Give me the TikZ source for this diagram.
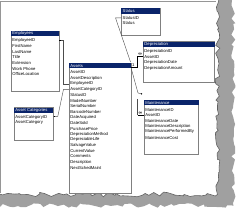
\documentclass[tikz,border=0pt]{standalone}
\usepackage{fontspec}
\setmainfont{Liberation Sans}
\usetikzlibrary{decorations.pathmorphing,calc}
\definecolor{hdrblue}{RGB}{10,36,106}
\definecolor{shadowgray}{RGB}{160,160,160}
\definecolor{edgegray}{RGB}{95,95,95}
\definecolor{boxgray}{RGB}{128,128,128}
\definecolor{framegray}{RGB}{150,150,150}
\tikzset{
  tbl/.style={draw=boxgray, line width=0.5pt, fill=white, inner sep=0pt, outer sep=0pt, anchor=north west},
  fld/.style={inner sep=0pt, anchor=west, font=\fontsize{4.2}{5}\selectfont},
  ttl/.style={fld, text=white},
  rel/.style={draw=black!70, line width=0.4pt},
  stubline/.style={draw=black, line width=1.1pt},
  endmark/.style={fill=black},
  card/.style={inner sep=0pt, font=\fontsize{4.2}{5}\selectfont},
}
\newcommand\dbtable[7]{%
  \node[tbl, minimum width=#4pt, minimum height=#5pt] (#1) at (#2,#3) {};
  \fill[hdrblue] (#1.north west) rectangle ++(#4,5.3);
  \node[ttl] (#1-t) at ($(#1.north west)+(1.2,2.75)$) {#6};
  \foreach \r [count=\i] in {#7} {
    \node[fld] (#1-\i) at ($(#1.north west)+(1.2,9.5+5.6*\i-5.6)$) {\r};
  }
}
\begin{document}
\begin{tikzpicture}[x=1pt,y=-1pt]
\useasboundingbox (0,0) rectangle (238,212);
\fill[white] (0,0) rectangle (238,212);
\pgfmathsetseed{11}
% torn-paper shadow
\path[fill=shadowgray, decorate, decoration={random steps, segment length=4.5pt, amplitude=2.2pt}]
  (-10,-10) -- (233.5,-10) -- (233.5,205.5) -- (-10,205.5) -- cycle;
% page
\path[fill=white, draw=edgegray, line width=0.6pt, decorate, decoration={random steps, segment length=4pt, amplitude=2.4pt}]
  (-10,-10) -- (217.5,-10) -- (217.5,194.5) -- (-10,194.5) -- cycle;
\draw[framegray, line width=0.6pt] (0.8,193) -- (0.8,0.8) -- (216,0.8);

% tables
\dbtable{emp}{11}{31}{48.3}{60}{Employees}{EmployeeID,FirstName,LastName,Title,Extension,Work Phone,OfficeLocation}
\dbtable{cat}{14}{107.7}{39.3}{32.3}{Asset Categories}{AssetCategoryID,AssetCategory}
\dbtable{ast}{69}{63}{62}{130}{Assets}{AssetID,AssetDescription,EmployeeID,AssetCategoryID,StatusID,ModelNumber,SerialNumber,BarcodeNumber,DateAcquired,DateSold,PurchasePrice,DepreciationMethod,DepreciableLife,SalvageValue,CurrentValue,Comments,Description,NextSchedMaint}
\dbtable{sta}{121.3}{8.3}{39}{26.7}{Status}{StatusID,Status}
\dbtable{dep}{143}{41.7}{71.5}{41}{Depreciation}{DepreciationID,AssetID,DepreciationDate,DepreciationAmount}
\dbtable{mnt}{144}{100}{54.7}{54}{Maintenance}{MaintenanceID,AssetID,MaintenanceDate,MaintenanceDescription,MaintenancePerformedBy,MaintenanceCost}

% Employees - Assets
\coordinate (e1) at (emp.east |- emp-1);
\draw[rel] (e1) -- ++(3.7,0) |- (ast.west |- ast-3);
\fill[endmark] ($(e1)+(0,-0.6)$) rectangle ++(1.2,1.2);

% Asset Categories - Assets
\coordinate (c1) at ($(cat.east |- cat-1)+(0,-0.8)$);
\coordinate (c2) at ($(c1)+(4.5,0)$);
\coordinate (c3) at ($(ast.west |- ast-4)+(-5.5,0)$);
\draw[rel] (c1) -- (c2) -- (c3) -- (ast.west |- ast-4);
\fill[endmark] ($(c1)+(0.4,-0.6)$) rectangle ++(1.2,1.2);

% Status - Assets
\coordinate (s1) at ($(sta.west |- sta-1)+(-5.8,0)$);
\coordinate (s2) at ($(ast.north east)+(-0.5,-1)$);
\draw[rel] (sta.west |- sta-1) -- (s1) -- (s2);

% Assets - Depreciation
\coordinate (a1) at ($(ast.north east)+(0,4.2)$);
\coordinate (d1) at ($(a1)+(6.5,0)$);
\draw[stubline] (a1) -- (d1) |- (dep.west |- dep-2);
\node[card] (one1) at ($(a1)+(2.3,-1.8)$) {1};
\node[card, font=\fontsize{5}{5}\bfseries] (inf1) at ($(d1 |- dep-2)+(2.6,-2.2)$) {∞};

% Assets - Maintenance
\coordinate (m0) at ($(ast.north east)+(0.5,6.5)$);
\coordinate (m1) at (138,93);
\coordinate (m2) at (141.5,93.8);
\draw[rel] (m0) -- (m1) -- (m2);
\fill[endmark] (m2) circle (0.8);
\coordinate (m3) at (137.5,99);
\coordinate (m4) at (m3 |- mnt-2);
\draw[rel] (m3) -- (m4);
\draw[stubline] (m4) -- (mnt.west |- mnt-2);
\node[card, font=\fontsize{5}{5}\bfseries] (inf2) at ($(m4)+(3,-2.2)$) {∞};
\end{tikzpicture}
\end{document}
